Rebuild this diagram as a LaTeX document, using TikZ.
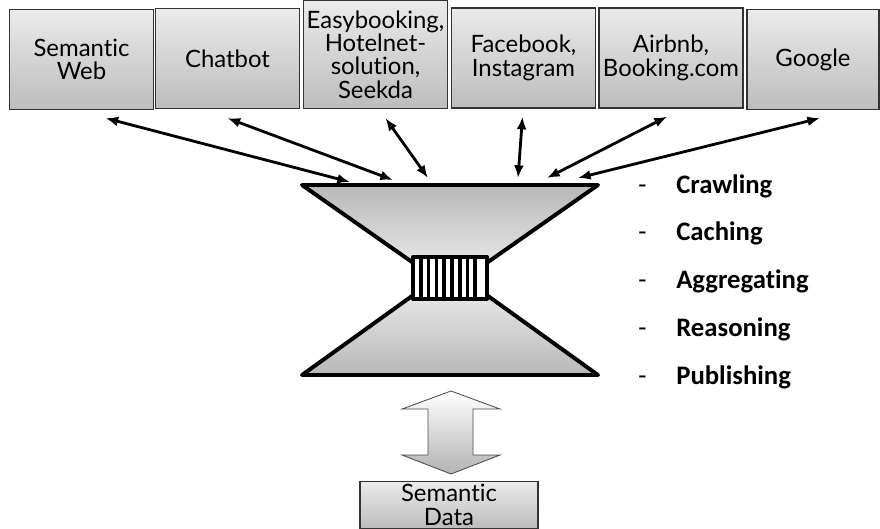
\documentclass[tikz,border=0pt]{standalone}
\usepackage{fontspec}
\setmainfont{Lato}[Ligatures=NoCommon]
\newfontfamily\listfont{Carlito}[Ligatures=NoCommon]
\usetikzlibrary{arrows.meta}

\tikzset{
  site/.style={draw=black!80, line width=0.9pt, top color=black!8, bottom color=black!26,
    align=center, inner sep=1pt, font=\fontsize{17}{16.6}\selectfont},
  sitebox/.style={site, minimum width=3.6cm, minimum height=2.5cm},
  link/.style={{Latex[length=9pt,width=7pt]}-{Latex[length=9pt,width=7pt]}, line width=2pt},
  funnel/.style={line width=2.8pt, line join=round},
  task/.style={anchor=base west, inner sep=0pt, font=\listfont\bfseries\fontsize{19}{21}\selectfont},
  dashmark/.style={anchor=base west, inner sep=0pt, font=\listfont\fontsize{19}{21}\selectfont},
}

\begin{document}
\begin{tikzpicture}[x=0.025cm, y=-0.025cm]
  \useasboundingbox (0,0) rectangle (880,528);

  % data sources along the top
  \node[sitebox] (sw) at (81.5,59.5) {Semantic\\Web};
  \node[sitebox] (cb) at (227.5,58.5) {Chatbot};
  \node[sitebox, minimum height=2.7cm] (eb) at (375.5,54.5) {Easybooking,\\Hotelnet-\\solution,\\Seekda};
  \node[sitebox] (fb) at (523.5,58) {Facebook,\\Instagram};
  \node[sitebox] (ab) at (671,58) {Airbnb,\\Booking.com};
  \node[sitebox, minimum width=3.3cm] (gg) at (813,59.5) {Google};

  % hourglass
  \coordinate (tl) at (302,185);
  \coordinate (tr) at (598,185);
  \coordinate (bl) at (302,375);
  \coordinate (br) at (598,375);
  \draw[funnel, top color=black!28, bottom color=black!10] (tl) -- (tr) -- (488,262) -- (412,262) -- cycle;
  \draw[funnel, top color=black!10, bottom color=black!28] (412,296) -- (488,296) -- (br) -- (bl) -- cycle;
  \draw[funnel, fill=white] (413,257) rectangle (487,299);
  \foreach \i in {1,...,8}
    \draw[line width=2.6pt] (413+7.78*\i,257) -- (413+7.78*\i,299);

  % arrow ends on the top edge
  \coordinate (h1) at (350,182);
  \coordinate (h2) at (393,180);
  \coordinate (h3) at (428,178);
  \coordinate (h4) at (518,178);
  \coordinate (h5) at (547,178);
  \coordinate (h6) at (578,178);

  \draw[link] ([shift={(24,8)}]sw.south) -- (h1);
  \draw[link] ([shift={(0,9)}]cb.south) -- (h2);
  \draw[link] ([shift={(10,9)}]eb.south) -- (h3);
  \draw[link] ([shift={(-1,8)}]fb.south) -- (h4);
  \draw[link] ([shift={(-4,8)}]ab.south) -- (h5);
  \draw[link] ([shift={(7,8)}]gg.south) -- (h6);

  % tasks
  \foreach \t [count=\k] in {Crawling,Caching,Aggregating,Reasoning,Publishing} {
    \node[dashmark] (d\k) at (638,{193+47.8*(\k-1)}) {-};
    \node[task] (t\k) at (676,{193+47.8*(\k-1)}) {\t};
  }

  % up/down arrow to the store
  \draw[draw=black!70, line width=0.6pt, top color=white, bottom color=black!30]
    (451,391) -- (500,409) -- (473,409) -- (473,455) -- (500,455) -- (451,474)
    -- (402,455) -- (428,455) -- (428,409) -- (402,409) -- cycle;

  \node[site, minimum width=4.45cm, anchor=north, inner ysep=2pt] (sd) at (449,481) {Semantic\\Data};
\end{tikzpicture}
\end{document}
